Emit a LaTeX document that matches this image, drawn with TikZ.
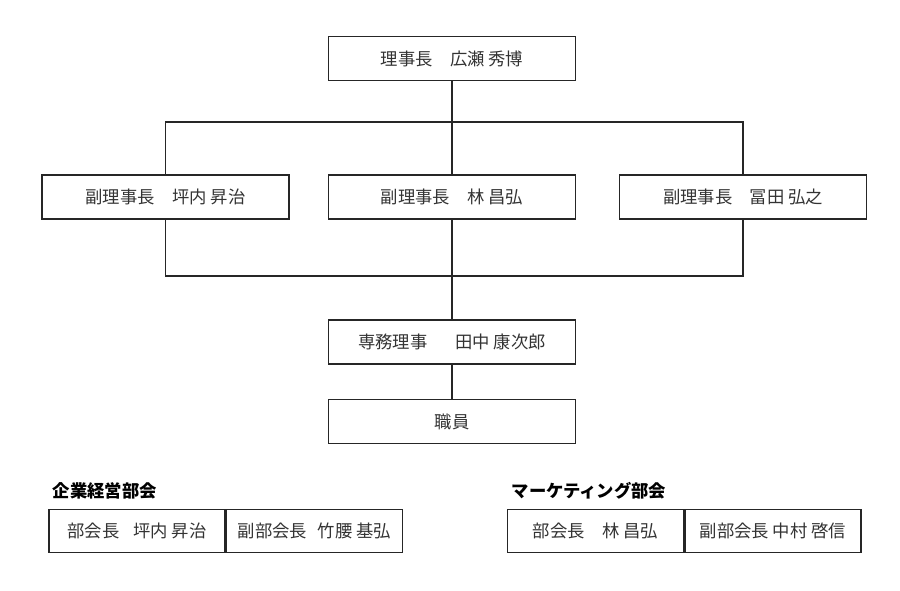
\documentclass[tikz,border=0pt]{standalone}
\usepackage{fontspec}
\setmainfont{Noto Sans CJK JP}
\usetikzlibrary{positioning}

\tikzset{
	post/.style={draw=black!85, line width=1.1pt, text=black!80, font=\fontsize{13}{15}\selectfont,
		minimum width=185.5pt, minimum height=33pt, inner sep=0pt},
	seat/.style={post, minimum width=132pt, minimum height=32.5pt},
	bukai/.style={anchor=west, font=\fontsize{13}{15}\selectfont\bfseries},
	wire/.style={draw=black!85, line width=1.1pt}
}

\begin{document}
\begin{tikzpicture}[x=0.75pt,y=-0.75pt]
				\useasboundingbox (0,0) rectangle (900,591);
				%Nodes
				\node[post] (chair) at (452,58.5) {理事長　広瀬 秀博};
				\node[post] (vl) at (165.5,197) {副理事長　坪内 昇治};
				\node[post] (vc) at (452,197) {副理事長　林 昌弘};
				\node[post] (vr) at (743,197) {副理事長　冨田 弘之};
				\node[post] (exec) at (452,342) {専務理事\hspace{1.6em}田中 康次郎};
				\node[post] (staff) at (452,421.5) {職員};
				\coordinate (top) at (452,122);
				\coordinate (bot) at (452,276);
				
				\node[bukai] (kigyo) at (48,491) {企業経営部会};
				\node[seat] (kl) at (137,531) {部会長\hspace{0.8em}坪内 昇治};
				\node[seat, right=0pt of kl] (kr) {副部会長\hspace{0.6em}竹腰 基弘};
				\node[bukai] (market) at (507,491) {マーケティング部会};
				\node[seat] (ml) at (595.5,531) {部会長\hspace{1em}林 昌弘};
				\node[seat, right=0pt of ml] (mr) {副部会長 中村 啓信};
				
				%Lines
				\draw[wire] (chair.south) -- (vc.north);
				\draw[wire] (vl.north) |- (top) -| (vr.north);
				\draw[wire] (vl.south) |- (bot) -| (vr.south);
				\draw[wire] (vc.south) -- (exec.north);
				\draw[wire] (exec.south) -- (staff.north);
\end{tikzpicture}
\end{document}
